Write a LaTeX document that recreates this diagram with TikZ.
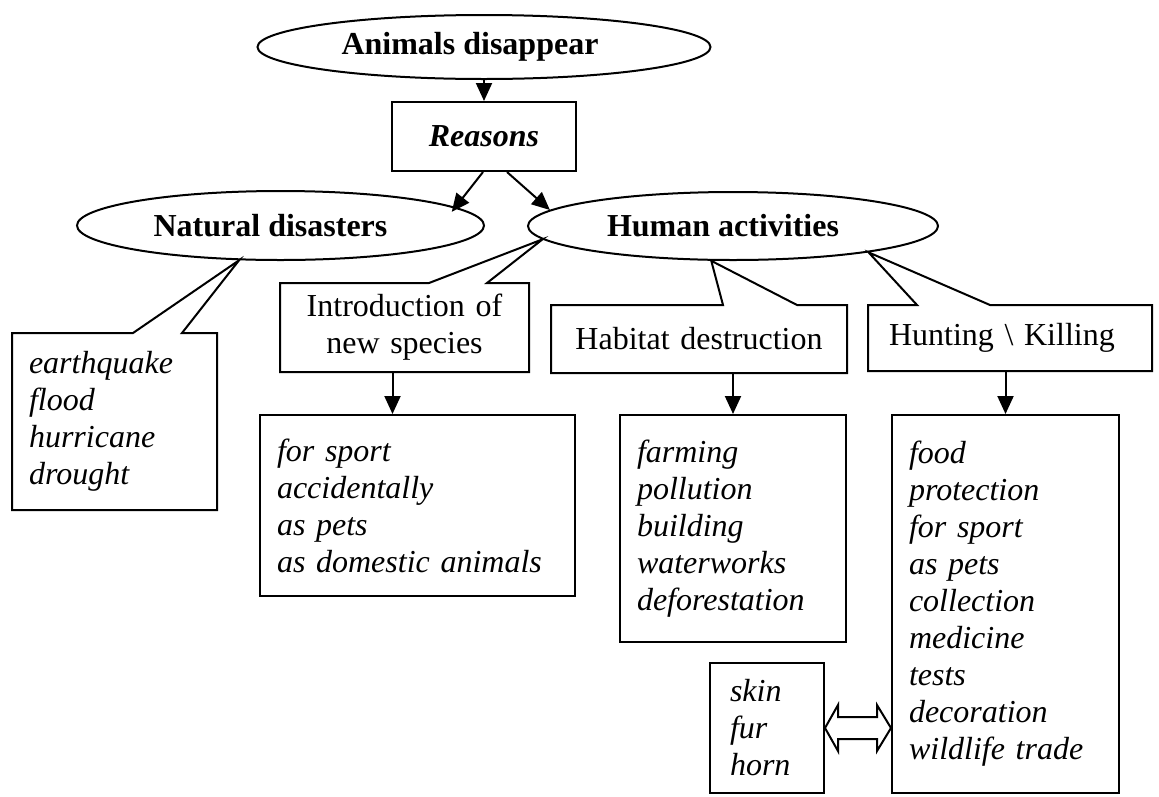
\documentclass[tikz,border=0pt]{standalone}
\usepackage{fontspec}
\setmainfont{Liberation Serif}
\usetikzlibrary{shapes.geometric,arrows.meta,calc}
\tikzstyle{oval}=[ellipse,draw,line width=2pt,inner sep=0pt,font=\bfseries]
\tikzstyle{rbox}=[rectangle,draw,line width=2pt,inner sep=0pt]
\tikzstyle{callout}=[rectangle,inner xsep=17pt,inner ysep=0pt,outer sep=0pt]
\tikzstyle{items}=[rectangle,draw,line width=2pt,align=left,font=\itshape,inner xsep=17pt,inner ysep=0pt]
\tikzstyle{edge}=[line width=2pt]
\tikzstyle{down}=[-{Triangle[length=18pt,width=16pt]},line width=2pt]

\begin{document}
\fontsize{32}{37}\selectfont
\begin{tikzpicture}[x=1pt,y=-1pt]
  \useasboundingbox (0,0) rectangle (1159,796);

  \node[oval,minimum width=453pt,minimum height=64pt] (animals) at (484,47) {Animals disappear\kern28pt};
  \node[rbox,minimum width=184pt,minimum height=69pt,font=\bfseries\itshape] (reasons) at (484,136.5) {Reasons};
  \node[oval,minimum width=407pt,minimum height=69pt] (natural) at (280.5,225.5) {Natural disasters\kern20pt};
  \node[oval,minimum width=410pt,minimum height=68pt] (human) at (733,226) {Human activities\kern20pt};

  \node[callout,font=\itshape,align=left,text width=171pt,minimum height=177pt] (natlist) at (114.5,421.5)
    {earthquake\\flood\\hurricane\\drought};
  \node[callout,align=center,text width=215pt,minimum height=89pt] (intro) at (404.5,327.5)
    {Introduction of\\new species};
  \node[callout,align=center,text width=262pt,minimum height=68pt] (habitat) at (699,339) {Habitat destruction};
  \node[callout,align=left,inner xsep=21pt,text width=242pt,minimum height=66pt] (hunting) at (1010,338)
    {Hunting \textbackslash{} Killing};

  \node[items,text width=281pt,minimum height=181pt] (introlist) at (417.5,505.5)
    {for sport\\accidentally\\as pets\\as domestic animals};
  \node[items,text width=192pt,minimum height=227pt] (hablist) at (733,528.5)
    {farming\\pollution\\building\\waterworks\\deforestation};
  \node[items,text width=193pt,minimum height=378pt] (huntlist) at (1005.5,604)
    {food\\protection\\for sport\\as pets\\collection\\medicine\\tests\\decoration\\wildlife trade};
  \node[items,inner xsep=20pt,text width=74pt,minimum height=130pt] (skin) at (767,728)
    {skin\\fur\\horn};

  % callout frames
  \draw[edge] (natlist.north west) -- ++(121,0) -- (natural.220) -- ($(natlist.north west)+(170,0)$)
    -- (natlist.north east) -- (natlist.south east) -- (natlist.south west) -- cycle;
  \draw[edge] (intro.north west) -- ++(149,0) -- (human.184) -- ($(intro.north west)+(207,0)$)
    -- (intro.north east) -- (intro.south east) -- (intro.south west) -- cycle;
  \draw[edge] (habitat.north west) -- ++(172,0) -- (human.238) -- ($(habitat.north west)+(246,0)$)
    -- (habitat.north east) -- (habitat.south east) -- (habitat.south west) -- cycle;
  \draw[edge] (hunting.north west) -- ++(49,0) -- (human.349) -- ($(hunting.north west)+(122,0)$)
    -- (hunting.north east) -- (hunting.south east) -- (hunting.south west) -- cycle;

  \draw[down] (animals) -- (reasons);
  \draw[down,shorten >=-6pt] ([xshift=-1pt]reasons.south) -- (natural.6);
  \draw[down] ([xshift=23pt]reasons.south) -- (human.175);
  \draw[down] ([xshift=-12pt]intro.south) -- ([xshift=-12pt]intro.south |- introlist.north);
  \draw[down] (hablist.north |- habitat.south) -- (hablist.north);
  \draw[down] (huntlist.north |- hunting.south) -- (huntlist.north);

  % double arrow
  \coordinate (tradeL) at (skin.east);
  \coordinate (tradeR) at (skin.east -| huntlist.west);
  \draw[edge] (tradeL) -- ++(13,-23) -- ++(0,12) -- ($(tradeR)+(-14,-11)$) -- ++(0,-12) -- (tradeR)
    -- ++(-14,23) -- ++(0,-12) -- ($(tradeL)+(13,11)$) -- ++(0,12) -- cycle;

\end{tikzpicture}
\end{document}
